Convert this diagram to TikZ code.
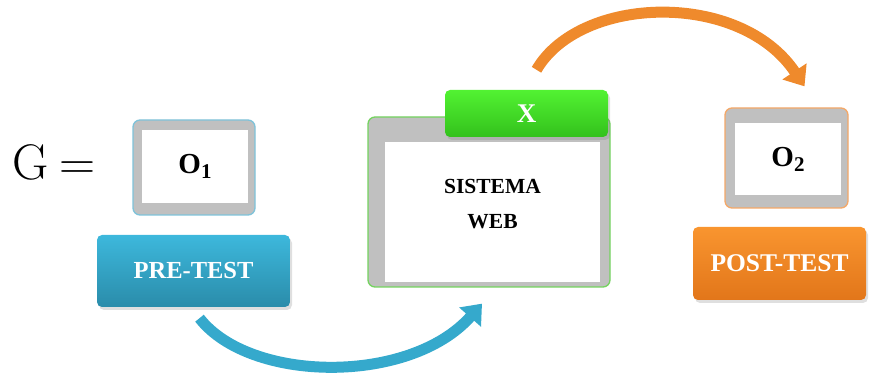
\documentclass[tikz,border=0pt]{standalone}
\usepackage{fontspec}
\newfontfamily\tnr{Liberation Serif}
\usepackage{tikz}
\usetikzlibrary{arrows.meta, positioning, shadows}
\usepackage{xcolor}

\definecolor{framegray}{HTML}{C0C0C0}
\definecolor{preblue}{HTML}{3DB8DC}
\definecolor{preblued}{HTML}{2A8CAA}
\definecolor{postorange}{HTML}{F9952F}
\definecolor{postoranged}{HTML}{E2761A}
\definecolor{tabgreen}{HTML}{52F232}
\definecolor{tabgreend}{HTML}{33C11C}
\definecolor{lineblue}{HTML}{7EC3DA}
\definecolor{lineorange}{HTML}{F4A868}
\definecolor{linegreen}{HTML}{74D35F}
\definecolor{arrowblue}{HTML}{35A9CC}
\definecolor{arroworange}{HTML}{EF8A2C}

\newcommand{\obs}[1]{O\raisebox{-5pt}{\fontsize{21}{21}\selectfont #1}}

\begin{document}
\begin{tikzpicture}[x=1pt, y=1pt,
	frame/.style={draw, line width=1.3pt, fill=framegray, rounded corners=7pt, inner sep=0pt},
	screen/.style={fill=white, inner sep=0pt, font=\tnr\bfseries\fontsize{29}{29}\selectfont},
	tagbox/.style={rounded corners=5pt, inner sep=0pt, text=white,
		font=\tnr\bfseries\fontsize{24.5}{24.5}\selectfont,
		drop shadow={opacity=0.25, shadow xshift=2pt, shadow yshift=-3pt}},
	bigarrow/.style={line width=11pt, -{Triangle[width=28pt,length=18pt]}}
	]
	\useasboundingbox (0,0) rectangle (875,385);
	
	%equation
	\node (geq) at (54,223) {\fontsize{50}{50}\selectfont G\hspace{11pt}=};
	
	%pre-test
	\node[frame, draw=lineblue, minimum width=122, minimum height=95] (o1frame) at (194,217.5) {};
	\node[screen, minimum width=106, minimum height=73] (o1) at (195,218.5) {\obs{1}};
	\node[tagbox, top color=preblue, bottom color=preblued, minimum width=193, minimum height=72] (pre) at (193.5,114) {PRE-TEST};
	
	%sistema web
	\node[frame, draw=linegreen, minimum width=242, minimum height=170] (sysframe) at (489,183) {};
	\node[screen, minimum width=215, minimum height=140] (sys) at (492.5,173) {};
	\node[align=center, font=\tnr\bfseries\fontsize{21.5}{35}\selectfont] (systext) at ([yshift=8]sys.center) {SISTEMA\\WEB};
	\node[tagbox, top color=tabgreen, bottom color=tabgreend, minimum width=163, minimum height=47,
		font=\tnr\bfseries\fontsize{27}{27}\selectfont] (x) at (526.5,271.5) {X};
	
	%post-test
	\node[frame, draw=lineorange, minimum width=123, minimum height=100] (o2frame) at (786.5,227) {};
	\node[screen, minimum width=106, minimum height=72] (o2) at (788,226) {\obs{2}};
	\node[tagbox, top color=postorange, bottom color=postoranged, minimum width=173, minimum height=73,
		font=\tnr\bfseries\fontsize{25.5}{25.5}\selectfont] (post) at (779.5,121.5) {POST-TEST};
	
	%arrows
	\draw[bigarrow, arrowblue] ([shift={(6,-11)}]pre.south) .. controls (250,2) and (410,0) .. ([shift={(-7,-16)}]sysframe.south);
	\draw[bigarrow, arroworange] ([shift={(10,20)}]x.north) .. controls (580,390) and (740,395) .. ([shift={(18,21)}]o2frame.north);
	
\end{tikzpicture}
\end{document}
